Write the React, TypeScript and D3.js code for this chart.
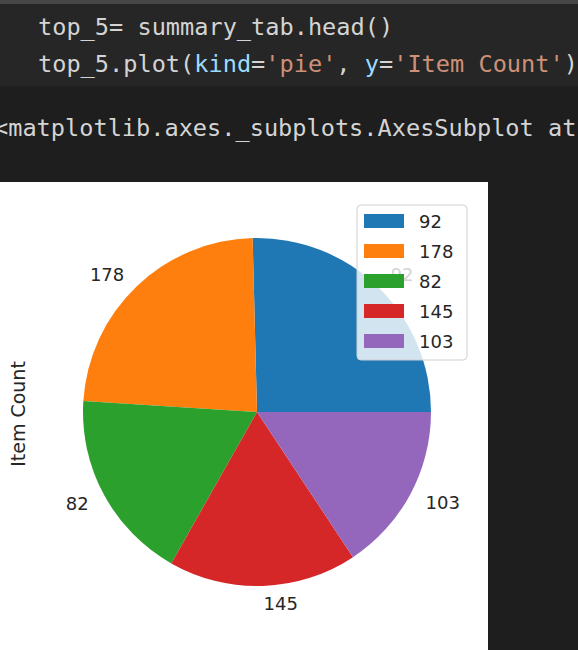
import React, { useEffect, useRef } from "react";
import * as d3 from "d3";

// index labels (the pie's categories) and their Item Count values
const labels = ["92", "178", "82", "145", "103"];
const itemCounts = [254, 236, 178, 175, 157];
const colors = ["#1f77b4", "#ff7f0e", "#2ca02c", "#d62728", "#9467bd"];

const codeLines = [
  [{ t: "top_5= summary_tab.head()", c: "#d4d4d4" }],
  [
    { t: "top_5.plot(", c: "#d4d4d4" },
    { t: "kind", c: "#9cdcfe" },
    { t: "=", c: "#d4d4d4" },
    { t: "'pie'", c: "#ce9178" },
    { t: ", ", c: "#d4d4d4" },
    { t: "y", c: "#9cdcfe" },
    { t: "=", c: "#d4d4d4" },
    { t: "'Item Count'", c: "#ce9178" },
    { t: ")", c: "#d4d4d4" },
  ],
];
const outputText = "<matplotlib.axes._subplots.AxesSubplot at";

const W = 578;
const H = 650;

export default function App() {
  const svgRef = useRef<SVGSVGElement>(null);

  useEffect(() => {
    if (!svgRef.current) return;
    const svg = d3.select(svgRef.current);
    svg.selectAll("*").remove();

    // notebook chrome
    svg.append("rect").attr("width", W).attr("height", H).attr("fill", "#1e1e1e");
    svg.append("rect").attr("width", W).attr("height", 4).attr("fill", "#474747");
    svg.append("rect").attr("y", 4).attr("width", W).attr("height", 82).attr("fill", "#262626");

    const mono = "'DejaVu Sans Mono', monospace";
    codeLines.forEach((line, i) => {
      const t = svg
        .append("text")
        .attr("x", 38)
        .attr("y", 35 + i * 37)
        .style("font-family", mono)
        .style("font-size", "23.6px")
        .attr("xml:space", "preserve");
      line.forEach((seg) => t.append("tspan").attr("fill", seg.c).text(seg.t));
    });
    svg
      .append("text")
      .attr("x", -6)
      .attr("y", 136)
      .attr("fill", "#d4d4d4")
      .style("font-family", mono)
      .style("font-size", "23.6px")
      .text(outputText);

    // figure area
    svg.append("rect").attr("x", 0).attr("y", 182).attr("width", 488).attr("height", H - 182).attr("fill", "#fff");

    const cx = 257;
    const cy = 412;
    const r = 174;

    // matplotlib: start at 3 o'clock, counterclockwise
    const pie = d3
      .pie<number>()
      .sort(null)
      .startAngle(Math.PI / 2)
      .endAngle(Math.PI / 2 - 2 * Math.PI);
    const arcs = pie(itemCounts);
    const arc = d3.arc<d3.PieArcDatum<number>>().innerRadius(0).outerRadius(r);

    const g = svg.append("g").attr("transform", `translate(${cx},${cy})`);
    g.selectAll("path")
      .data(arcs)
      .enter()
      .append("path")
      .attr("d", arc)
      .attr("fill", (d, i) => colors[i]);

    const font = "'DejaVu Sans', sans-serif";
    g.selectAll(".lbl")
      .data(arcs)
      .enter()
      .append("text")
      .attr("class", "lbl")
      .attr("x", (d) => 1.1 * r * Math.sin((d.startAngle + d.endAngle) / 2))
      .attr("y", (d) => -1.1 * r * Math.cos((d.startAngle + d.endAngle) / 2))
      .attr("text-anchor", (d) => (Math.sin((d.startAngle + d.endAngle) / 2) > 0 ? "start" : "end"))
      .attr("dominant-baseline", "central")
      .attr("fill", "#262626")
      .style("font-family", font)
      .style("font-size", "18px")
      .text((d, i) => labels[i]);

    // y label
    svg
      .append("text")
      .attr("transform", `translate(25,${cy + 2}) rotate(-90)`)
      .attr("text-anchor", "middle")
      .attr("fill", "#262626")
      .style("font-family", font)
      .style("font-size", "19px")
      .text("Item Count");

    // legend
    const lx = 357;
    const ly = 205;
    svg
      .append("rect")
      .attr("x", lx)
      .attr("y", ly)
      .attr("width", 110)
      .attr("height", 155)
      .attr("rx", 4)
      .attr("fill", "rgba(255,255,255,0.8)")
      .attr("stroke", "#d0d0d0")
      .attr("stroke-width", 1);

    const row = d3.scaleLinear().domain([0, labels.length - 1]).range([ly + 16, ly + 136]);
    labels.forEach((lab, i) => {
      svg
        .append("rect")
        .attr("x", lx + 7)
        .attr("y", row(i) - 7)
        .attr("width", 40)
        .attr("height", 14)
        .attr("fill", colors[i]);
      svg
        .append("text")
        .attr("x", lx + 62)
        .attr("y", row(i))
        .attr("dominant-baseline", "central")
        .attr("fill", "#262626")
        .style("font-family", font)
        .style("font-size", "18px")
        .text(lab);
    });
  }, []);

  return (
    <svg
      ref={svgRef}
      width={W}
      height={H}
      style={{ position: "absolute", left: 0, top: 0, display: "block" }}
    />
  );
}
